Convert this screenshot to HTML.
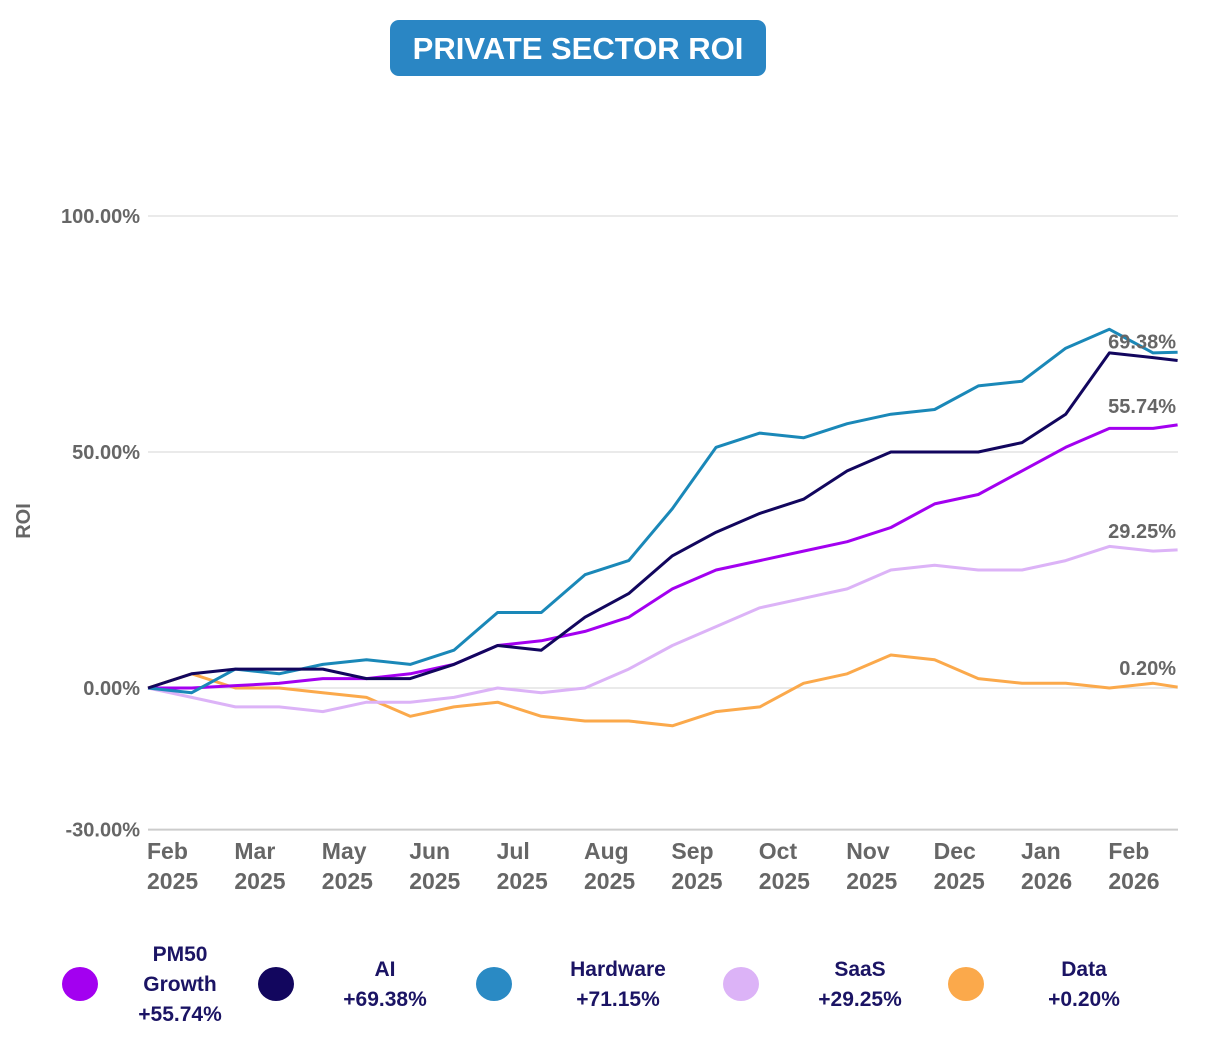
<!DOCTYPE html>
<html><head><meta charset="utf-8"><style>
body{margin:0;background:#fff;width:1209px;height:1034px;overflow:hidden;font-family:"Liberation Sans",sans-serif}
</style></head><body>
<svg id="chart" width="1209" height="1034" xmlns="http://www.w3.org/2000/svg" font-family="Liberation Sans, sans-serif">
<rect x="390" y="20" width="376" height="56" rx="9" fill="#2a86c4"/>
<text x="578" y="59" text-anchor="middle" fill="#fff" font-size="31" font-weight="bold">PRIVATE SECTOR ROI</text>
<text transform="translate(30,521) rotate(-90)" text-anchor="middle" fill="#666" font-size="20" font-weight="bold">ROI</text>
<g id="grid"></g><g id="series"></g><g id="labels"></g><g id="legend"></g>
</svg>
<script>
const months=[0,0.5,1,1.5,2,2.5,3,3.5,4,4.5,5,5.5,6,6.5,7,7.5,8,8.5,9,9.5,10,10.5,11,11.5,11.78];
const pm50=[0,0,0.5,1,2,2,3,5,9,10,12,15,21,25,27,29,31,34,39,41,46,51,55,55,55.74];
const ai=[0,3,4,4,4,2,2,5,9,8,15,20,28,33,37,40,46,50,50,50,52,58,71,70,69.38];
const hardware=[0,-1,4,3,5,6,5,8,16,16,24,27,38,51,54,53,56,58,59,64,65,72,76,71,71.15];
const saas=[0,-2,-4,-4,-5,-3,-3,-2,0,-1,0,4,9,13,17,19,21,25,26,25,25,27,30,29,29.25];
const dataS=[0,3,0,0,-1,-2,-6,-4,-3,-6,-7,-7,-8,-5,-4,1,3,7,6,2,1,1,0,1,0.2];
const yTicks=[100,50,0,-30];
const yTickLabels=["100.00%","50.00%","0.00%","-30.00%"];
const xTickLabels=[["Feb","2025"],["Mar","2025"],["May","2025"],["Jun","2025"],["Jul","2025"],["Aug","2025"],["Sep","2025"],["Oct","2025"],["Nov","2025"],["Dec","2025"],["Jan","2026"],["Feb","2026"]];
const seriesNames=["PM50 Growth","AI","Hardware","SaaS","Data"];
const seriesColors=["#a300f0","#12065e","#1a88b8","#dcb3f7","#fba94b"];
const legendColors=["#a300f0","#12065e","#2a8ac4","#dcb3f7","#fba94b"];
const NS="http://www.w3.org/2000/svg";
const X=t=>148+t*87.4, Y=v=>688-v*4.72;
function mk(tag,attrs,parent,txt){const e=document.createElementNS(NS,tag);for(const k in attrs)e.setAttribute(k,attrs[k]);if(txt!=null)e.textContent=txt;parent.appendChild(e);return e;}
const grid=document.getElementById('grid');
yTicks.forEach((v,i)=>{
 const l=mk('line',{x1:148,x2:1178,y1:Y(v),y2:Y(v),stroke:i==3?'#ccc':'#ddd','stroke-width':i==3?2:1.3},grid);
 
 
 const t=mk('text',{x:140,y:Y(v)+7,'text-anchor':'end',fill:'#666','font-size':20,'font-weight':'bold'},grid,yTickLabels[i]);
 
 
});
xTickLabels.forEach((lb,i)=>{
 const t=mk('text',{x:147+i*87.4,y:859,fill:'#666','font-size':23,'font-weight':'bold'},grid);
 
 
 mk('tspan',{x:147+i*87.4,dy:0},t,lb[0]);mk('tspan',{x:147+i*87.4,dy:30},t,lb[1]);
});
const all=[pm50,ai,hardware,saas,dataS];
const order=[4,3,0,2,1];
const sg=document.getElementById('series');
order.forEach(i=>{
 const d=all[i].map((v,j)=>(j?'L':'M')+X(months[j]).toFixed(1)+','+Y(v).toFixed(1)).join('');
 const p=mk('path',{d:d,fill:'none',stroke:seriesColors[i],'stroke-width':3,'stroke-linejoin':'round'},sg);
 
 
});
const lg=document.getElementById('labels');
[1,0,3,4].forEach(i=>{
 const v=all[i][all[i].length-1];
 const t=mk('text',{x:1176,y:Y(v)-12,'text-anchor':'end',fill:'#666','font-size':20,'font-weight':'bold'},lg,v.toFixed(2)+'%');
 
 
});
const leg=document.getElementById('legend');
const lcx=[80,276,494,741,966], ltx=[180,385,618,860,1084];
seriesNames.forEach((n,i)=>{
 const v=all[i][all[i].length-1];
 const c=mk('ellipse',{cx:lcx[i],cy:984,rx:18,ry:17,fill:legendColors[i]},leg);
 
 
 const lines=(i==0?['PM50','Growth']:[n]).concat(['+'+v.toFixed(2)+'%']);
 const y0=i==0?961:976;
 const t=mk('text',{x:ltx[i],y:y0,'text-anchor':'middle',fill:'#1b1464','font-size':21,'font-weight':'bold'},leg);
 
 
 lines.forEach((s,k)=>mk('tspan',{x:ltx[i],dy:k?30:0},t,s));
});
</script>
</body></html>
